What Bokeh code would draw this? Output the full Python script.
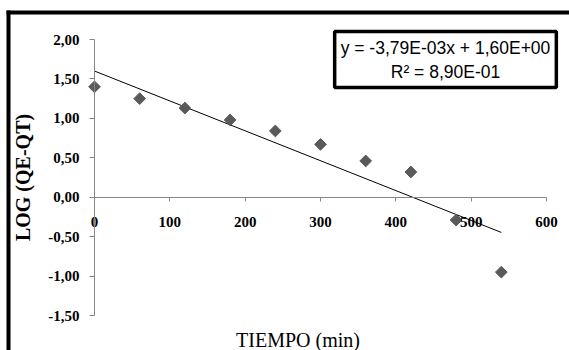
from bokeh.plotting import figure
from bokeh.models import Label, FixedTicker, Range1d, BoxAnnotation
from bokeh.embed import file_html
from bokeh.resources import INLINE
import math

# ---- data ----
tiempo = [0, 60, 120, 180, 240, 300, 360, 420, 480, 540]
log_qe_qt = [1.40, 1.25, 1.13, 0.98, 0.84, 0.67, 0.46, 0.32, -0.29, -0.95]
slope = -3.79e-3
intercept = 1.60
eq_lines = ["y = -3,79E-03x + 1,60E+00", "R\u00b2 = 8,90E-01"]
x_ticks = [0, 100, 200, 300, 400, 500, 600]
x_tick_labels = ["0", "100", "200", "300", "400", "500", "600"]
y_ticks = [-1.5, -1.0, -0.5, 0.0, 0.5, 1.0, 1.5, 2.0]
y_tick_labels = ["-1,50", "-1,00", "-0,50", "0,00", "0,50", "1,00", "1,50", "2,00"]
x_title = "TIEMPO (min)"
y_title = "LOG (QE-QT)"

AXIS_GRAY = "#868686"
POINT_GRAY = "#5a5a5a"

# ---- layout (canvas pixels); the frame covers the whole canvas ----
W, H = 569, 350
AX_LEFT, AX_RIGHT = 94, 546      # pixel span of x axis 0..600
AX_TOP, AX_BOTTOM = 39, 315      # pixel span of y axis 2..-1.5

x_lo, x_hi = x_ticks[0], x_ticks[-1]
y_lo, y_hi = y_ticks[0], y_ticks[-1]
xs = (x_hi - x_lo) / (AX_RIGHT - AX_LEFT)
ys = (y_hi - y_lo) / (AX_BOTTOM - AX_TOP)
def px_x(sx):
    return x_lo + (sx - AX_LEFT) * xs
def px_y(sy):
    return y_hi - (sy - AX_TOP) * ys

p = figure(width=W, height=H,
           x_range=Range1d(px_x(0), px_x(W)), y_range=Range1d(px_y(H), px_y(0)),
           output_backend="svg", toolbar_location=None,
           min_border_left=0, min_border_right=0,
           min_border_top=0, min_border_bottom=0)
p.outline_line_color = None
p.background_fill_color = "white"
p.border_fill_color = "white"
p.xgrid.visible = False
p.ygrid.visible = False

# x axis crossing at y = 0
xa = p.xaxis[0]
xa.fixed_location = 0
xa.bounds = (x_lo, x_hi)
xa.ticker = FixedTicker(ticks=x_ticks)
xa.major_label_overrides = {float(v): s for v, s in zip(x_ticks, x_tick_labels)}
xa.axis_line_color = AXIS_GRAY
xa.major_tick_line_color = AXIS_GRAY
xa.minor_tick_line_color = None
xa.major_tick_in = 0
xa.major_tick_out = 4
xa.major_label_standoff = 16
xa.major_label_text_font = "Liberation Serif"
xa.major_label_text_font_style = "bold"
xa.major_label_text_font_size = "15px"
xa.major_label_text_color = "black"

# y axis at x = 0
ya = p.yaxis[0]
ya.fixed_location = 0
ya.bounds = (y_lo, y_hi)
ya.ticker = FixedTicker(ticks=y_ticks)
ya.major_label_overrides = {float(v): s for v, s in zip(y_ticks, y_tick_labels)}
ya.axis_line_color = AXIS_GRAY
ya.major_tick_line_color = AXIS_GRAY
ya.minor_tick_line_color = None
ya.major_tick_in = 0
ya.major_tick_out = 5
ya.major_label_standoff = 10
ya.major_label_text_font = "Liberation Serif"
ya.major_label_text_font_style = "bold"
ya.major_label_text_font_size = "15px"
ya.major_label_text_color = "black"
ya.axis_label = y_title
ya.axis_label_standoff = 11
ya.axis_label_text_font = "Liberation Serif"
ya.axis_label_text_font_style = "bold"
ya.axis_label_text_font_size = "20px"
ya.axis_label_text_color = "black"

# x axis title
p.add_layout(Label(x=px_x(297.5), y=px_y(339.5), text=x_title, text_align="center",
                   text_baseline="middle", text_font="Liberation Serif",
                   text_font_size="20px", text_color="black"))

# trend line
x_fit = [min(tiempo), max(tiempo)]
y_fit = [intercept + slope * x for x in x_fit]
p.line(x_fit, y_fit, line_color="black", line_width=1)

# points
p.scatter(tiempo, log_qe_qt, marker="square", size=8.3, angle=math.pi / 4,
          fill_color=POINT_GRAY, line_color=POINT_GRAY)

# equation box
p.add_layout(Label(x=px_x(445), y=px_y(59), text="\n".join(eq_lines),
                   text_align="center", text_baseline="middle",
                   text_font="Liberation Sans", text_font_size="17.5px",
                   text_color="black",
                   border_line_color="black", border_line_width=3.5,
                   background_fill_color="white", padding=6))

# chart-area border (top and left edges visible in the crop)
p.add_layout(BoxAnnotation(left=6, right=W, top=10, bottom=14,
                           left_units="canvas", right_units="canvas",
                           top_units="canvas", bottom_units="canvas",
                           fill_color="black", fill_alpha=1, line_color=None))
p.add_layout(BoxAnnotation(left=6, right=10, top=10, bottom=H,
                           left_units="canvas", right_units="canvas",
                           top_units="canvas", bottom_units="canvas",
                           fill_color="black", fill_alpha=1, line_color=None))

open("out.html", "w").write(file_html(p, INLINE))
